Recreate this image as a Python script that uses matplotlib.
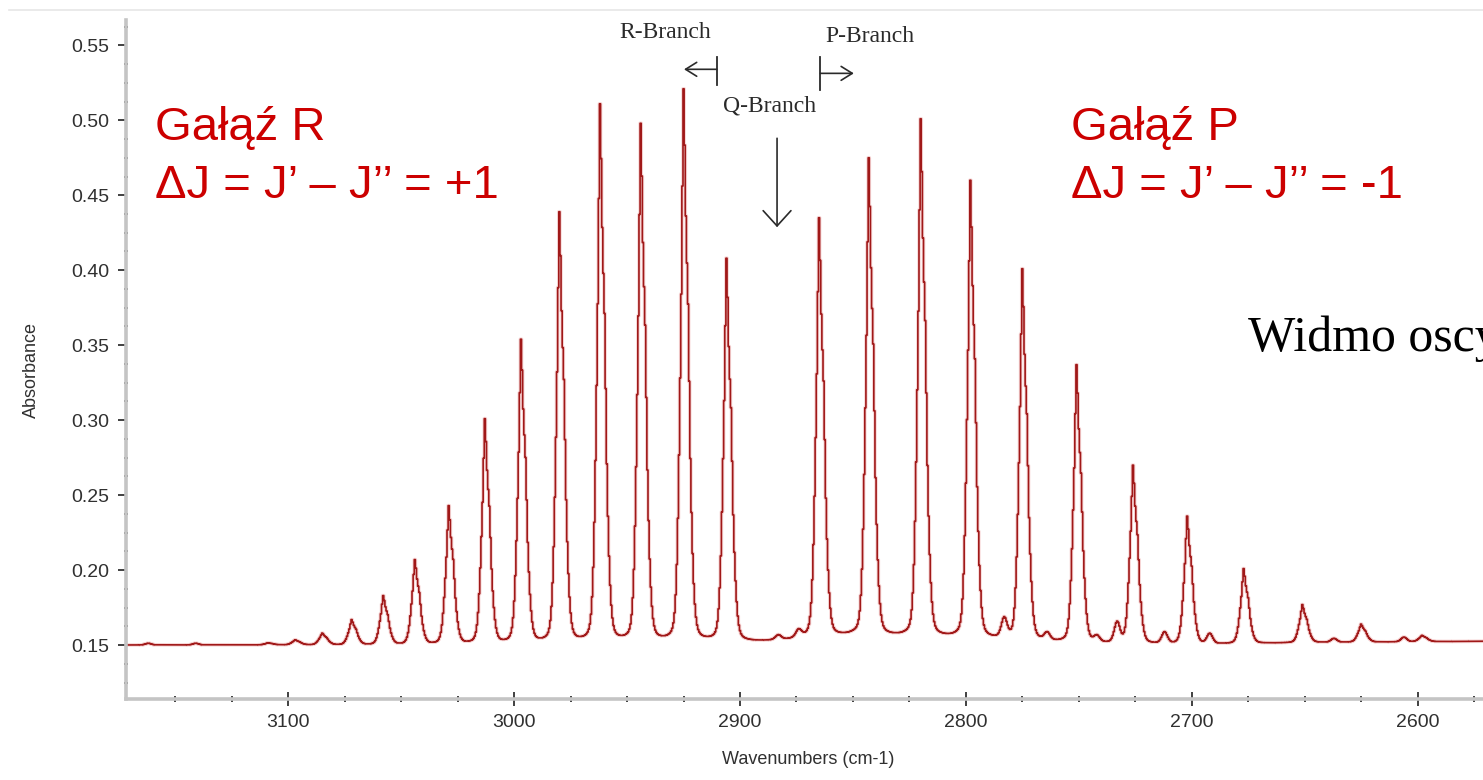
import numpy as np
import matplotlib
matplotlib.use("Agg")
import matplotlib.pyplot as plt
from matplotlib.ticker import MultipleLocator, FormatStrFormatter
from matplotlib.lines import Line2D

# ---- data ----
r_branch_wn = [3109, 3097, 3085, 3072, 3058, 3044, 3029, 3013, 2997, 2980, 2962, 2944, 2925, 2906]
r_branch_abs = [0.1515, 0.1535, 0.158, 0.167, 0.183, 0.207, 0.243, 0.301, 0.354, 0.439, 0.511, 0.498, 0.521, 0.408]
p_branch_wn = [2865, 2843, 2820, 2798, 2775, 2751, 2726, 2702, 2677, 2651, 2625, 2598]
p_branch_abs = [0.435, 0.475, 0.501, 0.460, 0.401, 0.337, 0.270, 0.236, 0.201, 0.177, 0.164, 0.1565]
weak_wn = [3162, 3141, 2883, 2874, 2783, 2764, 2742, 2733, 2712, 2692, 2637, 2606]
weak_abs = [0.1512, 0.1512, 0.157, 0.161, 0.169, 0.159, 0.157, 0.166, 0.159, 0.158, 0.1545, 0.1553]
baseline_wn = [3172, 3100, 3000, 2950, 2900, 2850, 2800, 2750, 2700, 2650, 2571]
baseline_abs = [0.150, 0.150, 0.1495, 0.150, 0.151, 0.155, 0.1535, 0.1505, 0.150, 0.1515, 0.1525]

x_ticks = [3100, 3000, 2900, 2800, 2700, 2600]
y_ticks = [0.15, 0.20, 0.25, 0.30, 0.35, 0.40, 0.45, 0.50, 0.55]

# ---- build spectrum from read line list ----
wn = np.arange(2571.0, 3172.5, 0.5)


def pv(x, x0, fwhm, eta):
    g = np.exp(-4 * np.log(2) * ((x - x0) / fwhm) ** 2)
    l = 1.0 / (1.0 + 4 * ((x - x0) / fwhm) ** 2)
    return eta * l + (1 - eta) * g


ISO_SHIFT, ISO_RATIO = 2.1, 0.32


def line_shape(x, x0):
    return 0.8 * pv(x, x0, 3.7, 0.2) + 0.2 * pv(x, x0, 0.9, 0.0)


def main_line(x, x0):
    return line_shape(x, x0) + ISO_RATIO * line_shape(x, x0 - ISO_SHIFT)


def weak_line(x, x0):
    return pv(x, x0, 3.0, 0.3)


main_pos = np.array(r_branch_wn + p_branch_wn, float)
main_h = np.array(r_branch_abs + p_branch_abs, float)
weak_pos = np.array(weak_wn, float)
weak_h = np.array(weak_abs, float)

all_pos = np.concatenate([main_pos, weak_pos])
all_h = np.concatenate([main_h, weak_h])
funcs = [main_line] * len(main_pos) + [weak_line] * len(weak_pos)

bl_at = np.interp(all_pos, baseline_wn[::-1], baseline_abs[::-1])
M = np.array([[f(p, c) for f, c in zip(funcs, all_pos)] for p in all_pos])
amps = np.linalg.solve(M, all_h - bl_at)
amps = np.maximum(amps, 0.0005)

spec = np.interp(wn, baseline_wn[::-1], baseline_abs[::-1]).copy()
for f, c, a in zip(funcs, all_pos, amps):
    spec += a * f(wn, c)

# ---- figure ----
fig = plt.figure(figsize=(14.83, 7.8), dpi=100)
fig.patch.set_facecolor("white")
ax = fig.add_axes([0.0848, 0.1038, 1 - 0.0848, 0.974 - 0.1038])
ax.set_xlim(3172, 2571)
ax.set_ylim(0.114, 0.5667)

ax.plot(wn, spec, color="#E06060", lw=2.6, alpha=0.25, drawstyle="steps-mid")
ax.plot(wn, spec, color="#A01818", lw=1.2, drawstyle="steps-mid")

for s in ["top", "right"]:
    ax.spines[s].set_visible(False)
for s in ["left", "bottom"]:
    ax.spines[s].set_color("#c4c4c4")
    ax.spines[s].set_linewidth(2.6)

ax.xaxis.set_major_locator(MultipleLocator(100))
ax.xaxis.set_minor_locator(MultipleLocator(25))
ax.yaxis.set_major_locator(MultipleLocator(0.05))
ax.yaxis.set_minor_locator(MultipleLocator(0.0125))
ax.yaxis.set_major_formatter(FormatStrFormatter("%.2f"))
ax.set_xticks(x_ticks)
ax.set_yticks(y_ticks)

for lab in ax.get_xticklabels() + ax.get_yticklabels():
    lab.set_fontfamily("Liberation Sans")
ax.tick_params(axis="x", which="major", direction="inout", length=10, width=1.2,
               color="#202020", labelsize=14, labelcolor="#303030", pad=6)
ax.tick_params(axis="x", which="minor", direction="inout", length=5, width=1.2, color="#202020")
ax.tick_params(axis="y", which="major", direction="out", length=6, width=1.2,
               color="#202020", labelsize=14, labelcolor="#303030", pad=6)
ax.tick_params(axis="y", which="minor", direction="inout", length=3, width=1.2, color="#202020")

fig.text(31 / 1483, 1 - 370 / 780, "Absorbance", rotation=90, ha="center", va="center",
         fontsize=13, family="Liberation Sans", color="#303030")
fig.text(808 / 1483, 1 - 760 / 780, "Wavenumbers (cm-1)", ha="center", va="center",
         fontsize=13, family="Liberation Sans", color="#303030")

# faint window frame line at top
fig.add_artist(Line2D([0.006, 1.0], [1 - 10 / 780] * 2, color="#e6e6e6", lw=1.2))

# red annotations
red = "#CC0000"
ax.text(3159.2, 0.4867, "Gałąź R", color=red, fontsize=34, family="Liberation Sans",
        ha="left", va="baseline")
ax.text(3159.2, 0.448, "ΔJ = J’ – J’’ = +1", color=red, fontsize=34, family="Liberation Sans",
        ha="left", va="baseline")
ax.text(2753.5, 0.4867, "Gałąź P", color=red, fontsize=34, family="Liberation Sans",
        ha="left", va="baseline")
ax.text(2753.5, 0.448, "ΔJ = J’ – J’’ = -1", color=red, fontsize=34, family="Liberation Sans",
        ha="left", va="baseline")

ax.text(2675.2, 0.346, "Widmo oscylacyjno-rotacyjne HCl", color="black", fontsize=36,
        family="Liberation Serif", ha="left", va="baseline", clip_on=False)

# branch markers
dark = "#2a2a2a"
ax.text(2933.3, 0.5587, "R-Branch", fontsize=17, family="Liberation Serif", color=dark,
        ha="center", va="center")
ax.text(2842.6, 0.5560, "P-Branch", fontsize=17, family="Liberation Serif", color=dark,
        ha="center", va="center")
ax.text(2886.7, 0.5093, "Q-Branch", fontsize=17, family="Liberation Serif", color=dark,
        ha="center", va="center")

ax.plot([2910.3, 2910.3], [0.5233, 0.5420], color=dark, lw=1.3)
ax.annotate("", xy=(2924.8, 0.5340), xytext=(2910.3, 0.5340),
            arrowprops=dict(arrowstyle="->,head_length=0.4,head_width=0.25",
                            color=dark, lw=1.2, mutation_scale=20, shrinkA=0, shrinkB=0))
ax.plot([2864.4, 2864.4], [0.5200, 0.5420], color=dark, lw=1.3)
ax.annotate("", xy=(2849.6, 0.5313), xytext=(2864.4, 0.5313),
            arrowprops=dict(arrowstyle="->,head_length=0.4,head_width=0.25",
                            color=dark, lw=1.2, mutation_scale=20, shrinkA=0, shrinkB=0))
ax.annotate("", xy=(2883.6, 0.4287), xytext=(2883.6, 0.4880),
            arrowprops=dict(arrowstyle="->,head_length=0.55,head_width=0.5",
                            color=dark, lw=1.2, mutation_scale=20, shrinkA=0, shrinkB=0))

fig.savefig("out.png", dpi=100, facecolor="white")
